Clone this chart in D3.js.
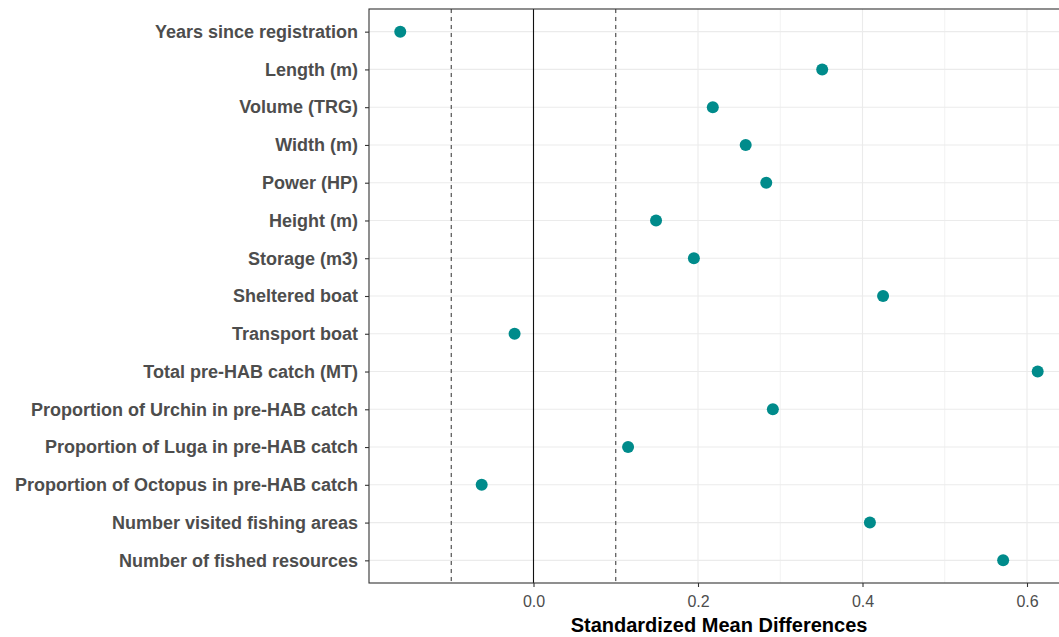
<!DOCTYPE html>
<html>
<head>
<meta charset="utf-8">
<script src="https://cdn.jsdelivr.net/npm/d3@7"></script>
<style>
  body { margin: 0; background: #fff; }
  svg { display: block; }
</style>
</head>
<body>
<div id="chart"></div>
<script>
// covariates, top to bottom
const covariates = [
  "Years since registration",
  "Length (m)",
  "Volume (TRG)",
  "Width (m)",
  "Power (HP)",
  "Height (m)",
  "Storage (m3)",
  "Sheltered boat",
  "Transport boat",
  "Total pre-HAB catch (MT)",
  "Proportion of Urchin in pre-HAB catch",
  "Proportion of Luga in pre-HAB catch",
  "Proportion of Octopus in pre-HAB catch",
  "Number visited fishing areas",
  "Number of fished resources"
];
const smd = [-0.162, 0.351, 0.218, 0.258, 0.283, 0.149, 0.195, 0.425, -0.023, 0.613, 0.291, 0.115, -0.063, 0.409, 0.571];
const xTicks = [0.0, 0.2, 0.4, 0.6];
const minorTicks = [-0.1, 0.1, 0.3, 0.5];
const thresholds = [-0.1, 0.1];

const W = 1059, H = 637;
const m = {top: 9, left: 369, bottom: 583};
const svg = d3.select("#chart").append("svg").attr("width", W).attr("height", H);

// right edge of the panel falls outside the window
const x = d3.scaleLinear().domain([-0.2, 0.0]).range([m.left, 533.5]);
const panelRight = x(0.66);

const y = d3.scalePoint().domain(covariates).range([m.top, m.bottom]).padding(0.6);

const panel = svg.append("g");
panel.append("rect").attr("x", m.left).attr("y", m.top)
  .attr("width", panelRight - m.left).attr("height", m.bottom - m.top).attr("fill", "#fff");

// grid
panel.selectAll(".minor").data(minorTicks).enter().append("line")
  .attr("x1", d => x(d)).attr("x2", d => x(d)).attr("y1", m.top).attr("y2", m.bottom)
  .attr("stroke", "#f2f2f2").attr("stroke-width", 1);
panel.selectAll(".hgrid").data(covariates).enter().append("line")
  .attr("x1", m.left).attr("x2", panelRight).attr("y1", d => y(d)).attr("y2", d => y(d))
  .attr("stroke", "#ebebeb").attr("stroke-width", 1.1);
panel.selectAll(".vgrid").data(xTicks).enter().append("line")
  .attr("x1", d => x(d)).attr("x2", d => x(d)).attr("y1", m.top).attr("y2", m.bottom)
  .attr("stroke", "#ebebeb").attr("stroke-width", 1.1);

// reference lines
panel.selectAll(".thr").data(thresholds).enter().append("line")
  .attr("x1", d => x(d)).attr("x2", d => x(d)).attr("y1", m.top).attr("y2", m.bottom)
  .attr("stroke", "#444").attr("stroke-width", 1.1).attr("stroke-dasharray", "4,4");
panel.append("line").attr("x1", x(0)).attr("x2", x(0)).attr("y1", m.top).attr("y2", m.bottom)
  .attr("stroke", "#111").attr("stroke-width", 1.1);

// points
panel.selectAll(".pt").data(covariates).enter().append("circle")
  .attr("cx", (d, i) => x(smd[i])).attr("cy", d => y(d)).attr("r", 6)
  .attr("fill", "#008b8b");

// border
panel.append("rect").attr("x", m.left).attr("y", m.top)
  .attr("width", panelRight - m.left).attr("height", m.bottom - m.top)
  .attr("fill", "none").attr("stroke", "#333").attr("stroke-width", 1.1);

// y axis
const yAxis = svg.append("g").attr("transform", `translate(${m.left},0)`)
  .call(d3.axisLeft(y).tickSize(4).tickPadding(7));
yAxis.select(".domain").remove();
yAxis.selectAll("line").attr("stroke", "#333").attr("stroke-width", 1.1);
yAxis.selectAll("text").attr("fill", "#4d4d4d")
  .style("font-family", "Arial, 'Liberation Sans', sans-serif")
  .style("font-size", "18px").style("font-weight", "bold");

// x axis
const xAxis = svg.append("g").attr("transform", `translate(0,${m.bottom})`)
  .call(d3.axisBottom(x).tickValues(xTicks).tickFormat(d3.format(".1f")).tickSize(4).tickPadding(9));
xAxis.select(".domain").remove();
xAxis.selectAll("line").attr("stroke", "#333").attr("stroke-width", 1.1);
xAxis.selectAll("text").attr("fill", "#4d4d4d")
  .style("font-family", "Arial, 'Liberation Sans', sans-serif")
  .style("font-size", "16px");

svg.append("text").attr("x", 719).attr("y", 632)
  .attr("text-anchor", "middle").attr("fill", "#000")
  .style("font-family", "Arial, 'Liberation Sans', sans-serif")
  .style("font-size", "20px").style("font-weight", "bold")
  .text("Standardized Mean Differences");
</script>
</body>
</html>
